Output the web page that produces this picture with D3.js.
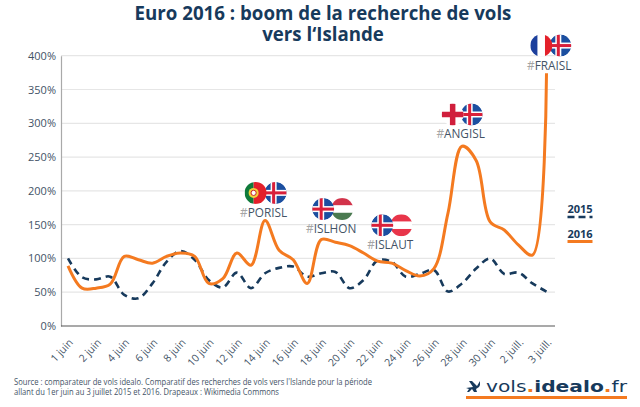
<!DOCTYPE html>
<html>
<head>
<meta charset="utf-8">
<script src="https://cdn.jsdelivr.net/npm/d3@7"></script>
<style>
body { margin: 0; background: #fff; }
svg { display: block; font-family: "Open Sans", sans-serif; }
</style>
</head>
<body>
<script>
// tick labels sit on every second position of the series
const tickLabels = ["1 juin", "2 juin", "4 juin", "6 juin", "8 juin", "10 juin", "12 juin", "14 juin", "16 juin",
    "18 juin", "20 juin", "22 juin", "24 juin", "26 juin", "28 juin", "30 juin", "2 juill.", "3 juill."]
const yTicks = [0, 50, 100, 150, 200, 250, 300, 350, 400]

const values2015 = [100, 72, 69, 73, 46, 41, 63, 95, 111, 98, 68, 57, 79, 56, 78, 86, 88, 73, 78,
    80, 56, 68, 97, 95, 73, 77, 83, 51, 63, 85, 100, 77, 79, 63, 51]
const values2016 = [89, 56, 56, 62, 103, 98, 93, 103, 108, 103, 63, 70, 108, 90, 156, 112, 98, 63, 128,
    124, 119, 108, 96, 93, 82, 74, 85, 167, 266, 245, 154, 142, 120, 105, 374]

const hashtags = ["PORISL", "ISLHON", "ISLAUT", "ANGISL", "FRAISL"]
const hashtagPos = [13.9, 18.7, 22.9, 27.9, 34.2]
const hashtagLevel = [197, 173, 149, 313, 415]
const hashtagFlags = [["por", "isl"], ["hun", "isl"], ["aut", "isl"], ["eng", "isl"], ["fra", "isl"]]

const navy = "#173a5c"
const orange = "#f47a20"
const slate = "#435366"

const w = 640
const h = 407

const svg = d3.select("body").append("svg")
    .attr("width", w)
    .attr("height", h)

const x = d3.scaleLinear().domain([0, 34]).range([68, 546.5])
const y = d3.scaleLinear().domain([0, 400]).range([326, 55.7])

// title
svg.selectAll(".title")
    .data(["Euro 2016 : boom de la recherche de vols", "vers l‘Islande"])
    .enter().append("text")
    .attr("class", "title")
    .attr("x", 323)
    .attr("y", (d, i) => 20 + i * 21)
    .attr("text-anchor", "middle")
    .attr("font-size", 18.7)
    .attr("font-weight", 700)
    .attr("fill", navy)
    .text(d => d)

// grid
svg.selectAll(".grid")
    .data(yTicks.slice(1))
    .enter().append("line")
    .attr("x1", 61)
    .attr("x2", 555)
    .attr("y1", d => y(d))
    .attr("y2", d => y(d))
    .attr("stroke", "#e6e6e6")
    .attr("stroke-width", 1.2)

// y axis
const yAxis = d3.axisLeft(y).tickValues(yTicks).tickFormat(d => d + "%").tickSize(0).tickPadding(5)
const gy = svg.append("g").attr("transform", "translate(61,0)").call(yAxis)
gy.select(".domain").attr("stroke", "#a9a9a9").attr("stroke-width", 1.2)
gy.selectAll("text").attr("font-size", 11).attr("fill", slate).attr("font-family", "Open Sans")

// x axis
const xAxis = d3.axisBottom(x)
    .tickValues(d3.range(0, 35, 2))
    .tickFormat(d => tickLabels[d / 2])
    .tickSize(0)
const gx = svg.append("g").attr("transform", "translate(0,326)").call(xAxis)
gx.select(".domain").attr("d", "M61,0H555").attr("stroke", "#555").attr("stroke-width", 1.2)
gx.selectAll("text")
    .attr("font-size", 10.5)
    .attr("fill", slate)
    .attr("font-family", "Open Sans")
    .attr("text-anchor", "end")
    .attr("dy", 0)
    .attr("transform", "translate(3,15) rotate(-47)")

// lines
const line = d3.line()
    .x((d, i) => x(i))
    .y(d => y(d))
    .curve(d3.curveCatmullRom.alpha(0.5))

svg.append("path")
    .attr("d", line(values2015))
    .attr("fill", "none")
    .attr("stroke", navy)
    .attr("stroke-width", 2.6)
    .attr("stroke-dasharray", "7 5")

svg.append("path")
    .attr("d", line(values2016))
    .attr("fill", "none")
    .attr("stroke", orange)
    .attr("stroke-width", 3)

// flags, all drawn in a box centred on 0,0 and clipped to a disc
const defs = svg.append("defs")
defs.append("clipPath").attr("id", "disc").append("circle").attr("r", 11)

function stripes(g, colors, vertical) {
    const band = 22 / colors.length
    colors.forEach((c, i) => {
        g.append("rect")
            .attr("x", vertical ? -11 + i * band : -11)
            .attr("y", vertical ? -11 : -11 + i * band)
            .attr("width", vertical ? band : 22)
            .attr("height", vertical ? 22 : band)
            .attr("fill", c)
    })
}

function cross(g, cx, width, color) {
    g.append("rect").attr("x", cx - width / 2).attr("y", -11).attr("width", width).attr("height", 22).attr("fill", color)
    g.append("rect").attr("x", -11).attr("y", -width / 2).attr("width", 22).attr("height", width).attr("fill", color)
}

const flags = {
    isl: g => {
        g.append("circle").attr("r", 11).attr("fill", "#1c4fa0")
        cross(g, -2, 6, "#fff")
        cross(g, -2, 3, "#d9203a")
    },
    por: g => {
        g.append("rect").attr("x", -11).attr("y", -11).attr("width", 9).attr("height", 22).attr("fill", "#0f7a3a")
        g.append("rect").attr("x", -2).attr("y", -11).attr("width", 13).attr("height", 22).attr("fill", "#e3202a")
        g.append("circle").attr("cx", -2).attr("r", 5).attr("fill", "#f2d13a")
        g.append("circle").attr("cx", -2).attr("r", 2.6).attr("fill", "#fff").attr("stroke", "#c8202a")
    },
    hun: g => stripes(g, ["#d2334a", "#fff", "#4a7a50"], false),
    aut: g => stripes(g, ["#e8354a", "#fff", "#e8354a"], false),
    eng: g => {
        g.append("circle").attr("r", 11).attr("fill", "#fff")
        cross(g, 0, 5.5, "#d01f3c")
    },
    fra: g => stripes(g, ["#1c3f9c", "#fff", "#e3202a"], true)
}

hashtags.forEach((tag, i) => {
    const cx = x(hashtagPos[i])
    const cy = y(hashtagLevel[i])
    const right = svg.append("g")
        .attr("transform", "translate(" + (cx + (i == 0 ? 12 : 11)) + "," + cy + ")")
    const left = svg.append("g")
        .attr("transform", "translate(" + (cx - 8) + "," + cy + ")")

    // Iceland is on the left for ISLHON and ISLAUT
    const swap = tag.startsWith("ISL")
    const first = swap ? right : left
    const second = swap ? left : right
    const a = first.append("g").attr("clip-path", "url(#disc)")
    flags[hashtagFlags[i][0]](a)
    const b = second.append("g").attr("clip-path", "url(#disc)")
    flags[hashtagFlags[i][1]](b)

    const label = svg.append("text")
        .attr("x", cx)
        .attr("y", cy + 24)
        .attr("text-anchor", "middle")
        .attr("font-size", 11.8)
        .attr("fill", slate)
    label.append("tspan").attr("fill", "#a5a5a5").text("#")
    label.append("tspan").text(tag)
})

// legend
const legendNames = ["2015", "2016"]
legendNames.forEach((name, i) => {
    svg.append("text")
        .attr("x", 580)
        .attr("y", 213 + i * 25)
        .attr("text-anchor", "middle")
        .attr("font-size", 11)
        .attr("font-weight", 700)
        .attr("fill", navy)
        .text(name)
    svg.append("line")
        .attr("x1", 567.5)
        .attr("x2", 592.5)
        .attr("y1", 217 + i * 24.5)
        .attr("y2", 217 + i * 24.5)
        .attr("stroke", i == 0 ? navy : orange)
        .attr("stroke-width", i == 0 ? 2.6 : 3)
        .attr("stroke-dasharray", i == 0 ? "7 4" : null)
})

// source
const sourceLines = ["Source :  comparateur de vols idealo. Comparatif des recherches de vols vers l'Islande pour la période",
    "allant du 1er juin au 3 juillet 2015 et 2016. Drapeaux : Wikimedia Commons"]
const sourceWidths = [358, 265]
svg.selectAll(".source")
    .data(sourceLines)
    .enter().append("text")
    .attr("class", "source")
    .attr("x", 14)
    .attr("y", (d, i) => 384.5 + i * 10)
    .attr("font-size", 8.4)
    .attr("textLength", (d, i) => sourceWidths[i])
    .attr("lengthAdjust", "spacingAndGlyphs")
    .attr("fill", slate)
    .text(d => d)

// logo
const logo = svg.append("text")
    .attr("x", 486)
    .attr("y", 391.5)
    .attr("font-family", "DejaVu Sans")
    .attr("font-size", 16)
    .attr("textLength", 141)
    .attr("lengthAdjust", "spacingAndGlyphs")
    .attr("fill", navy)
logo.append("tspan").text("vols")
logo.append("tspan").attr("fill", orange).attr("font-weight", 700).text(".")
logo.append("tspan").attr("font-weight", 700).text("idealo")
logo.append("tspan").attr("fill", orange).attr("font-weight", 700).text(".")
logo.append("tspan").text("fr")

svg.append("path")
    .attr("d", "M466,388 L473,387 L469,381 L472,381 L477,386 L480,381 L480,385 L479,387 L476,389 L477,392 L474,392 L472,389 L469,392 L467,392 L469,389 Z")
    .attr("fill", navy)

svg.append("line")
    .attr("x1", 466)
    .attr("x2", 627)
    .attr("y1", 397.5)
    .attr("y2", 397.5)
    .attr("stroke", orange)
    .attr("stroke-width", 3)
</script>
</body>
</html>
